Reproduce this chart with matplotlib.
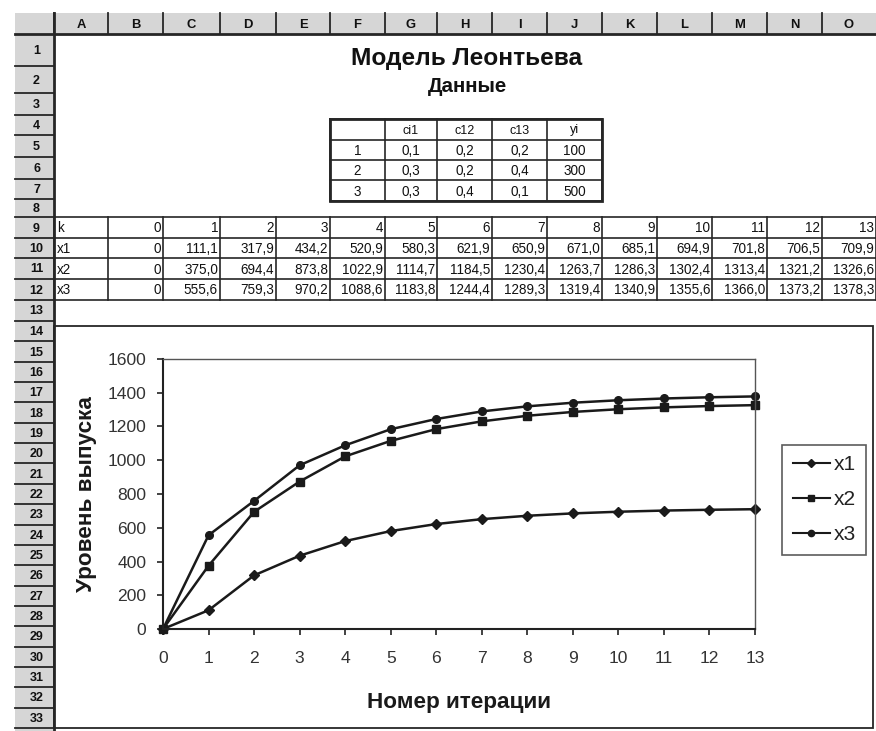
import matplotlib
matplotlib.use('Agg')
import matplotlib.pyplot as plt
from matplotlib.patches import Rectangle
from matplotlib.lines import Line2D

plt.rcParams['font.family'] = ['Liberation Sans', 'DejaVu Sans']

# ---------------- data ----------------
iterations = list(range(14))
x1 = [0, 111.1, 317.9, 434.2, 520.9, 580.3, 621.9, 650.9, 671.0, 685.1, 694.9, 701.8, 706.5, 709.9]
x2 = [0, 375.0, 694.4, 873.8, 1022.9, 1114.7, 1184.5, 1230.4, 1263.7, 1286.3, 1302.4, 1313.4, 1321.2, 1326.6]
x3 = [0, 555.6, 759.3, 970.2, 1088.6, 1183.8, 1244.4, 1289.3, 1319.4, 1340.9, 1355.6, 1366.0, 1373.2, 1378.3]
series_names = ['x1', 'x2', 'x3']

coef_header = ['', 'ci1', 'c12', 'c13', 'yi']
coef_index = [1, 2, 3]
coef_c1 = [0.1, 0.3, 0.3]
coef_c2 = [0.2, 0.2, 0.4]
coef_c3 = [0.2, 0.4, 0.1]
coef_y = [100, 300, 500]

col_letters = list('ABCDEFGHIJKLMNO')
title = 'Модель Леонтьева'
subtitle = 'Данные'
x_label = 'Номер итерации'
y_label = 'Уровень выпуска'
y_ticks = [0, 200, 400, 600, 800, 1000, 1200, 1400, 1600]

# ---------------- layout (pixels) ----------------
W, H = 876, 731
cols = [54, 108, 163, 220, 276, 330, 385, 437, 492, 547, 602, 657, 712, 767, 822, 876]
rb = [34, 66, 93, 115, 135, 157, 179, 199, 217, 238, 258, 279, 300, 321] + [321 + 20.35 * i for i in range(1, 21)]
HEAD_TOP = 13
LEFT0 = 15
GRAY = '#d6d6d6'
LINE = '#262626'


def px(v):
    return v * 0.72


def fmt(v, dec=1):
    if v == 0:
        return '0'
    return f'{v:.{dec}f}'.replace('.', ',')


fig = plt.figure(figsize=(W / 100, H / 100), dpi=100)
sheet = fig.add_axes([0, 0, 1, 1])
sheet.set_xlim(0, W)
sheet.set_ylim(H, 0)
sheet.axis('off')

# headers
sheet.add_patch(Rectangle((LEFT0, HEAD_TOP), W - LEFT0, rb[0] - HEAD_TOP, facecolor=GRAY, edgecolor='none'))
sheet.add_patch(Rectangle((LEFT0, rb[0]), cols[0] - LEFT0, H - rb[0], facecolor=GRAY, edgecolor='none'))
for i, letter in enumerate(col_letters):
    sheet.text((cols[i] + cols[i + 1]) / 2, (HEAD_TOP + rb[0]) / 2 + 1, letter, ha='center', va='center',
               fontsize=px(13), fontweight='bold', color='#111')
for c in cols[:-1]:
    sheet.plot([c, c], [HEAD_TOP, rb[0]], color=LINE, lw=1.3)
for r in range(1, len(rb)):
    sheet.text((LEFT0 + cols[0]) / 2 + 2, (rb[r - 1] + rb[r]) / 2 + 1, str(r), ha='center', va='center',
               fontsize=px(12.5), fontweight='bold', color='#111')
    sheet.plot([LEFT0, cols[0]], [rb[r], rb[r]], color=LINE, lw=1.3)
sheet.plot([LEFT0, W], [rb[0], rb[0]], color=LINE, lw=2)
sheet.plot([cols[0], cols[0]], [HEAD_TOP, H], color=LINE, lw=2)

# titles
sheet.text(467, 58, title, ha='center', va='center', fontsize=px(24.5), fontweight='bold', color='#111')
sheet.text(467, 87, subtitle, ha='center', va='center', fontsize=px(20.5), fontweight='bold', color='#111')

# coefficient table
ct_cols = cols[5:11]
ct_rows = [119, 140, 160, 180, 201]
for r in ct_rows:
    sheet.plot([ct_cols[0], ct_cols[-1]], [r, r], color=LINE, lw=1.2)
for c in ct_cols:
    sheet.plot([c, c], [ct_rows[0], ct_rows[-1]], color=LINE, lw=1.2)
sheet.add_patch(Rectangle((ct_cols[0], ct_rows[0]), ct_cols[-1] - ct_cols[0], ct_rows[-1] - ct_rows[0],
                          fill=False, edgecolor=LINE, lw=2))
tbl_font = ['Liberation Sans Narrow', 'Liberation Sans', 'DejaVu Sans']
for j, h in enumerate(coef_header):
    sheet.text((ct_cols[j] + ct_cols[j + 1]) / 2, (ct_rows[0] + ct_rows[1]) / 2 + 1, h, ha='center', va='center',
               fontsize=px(12.5), family=tbl_font, color='#111')
for i in range(3):
    vals = [str(coef_index[i]), fmt(coef_c1[i]), fmt(coef_c2[i]), fmt(coef_c3[i]), str(coef_y[i])]
    for j, v in enumerate(vals):
        sheet.text((ct_cols[j] + ct_cols[j + 1]) / 2, (ct_rows[i + 1] + ct_rows[i + 2]) / 2 + 1, v,
                   ha='center', va='center', fontsize=px(13.5), family=tbl_font, color='#111')

# iteration table (rows 9-12)
t_top, t_bot = rb[8], rb[12]
for r in rb[8:13]:
    sheet.plot([cols[0], cols[-1]], [r, r], color=LINE, lw=1.2)
for c in cols:
    sheet.plot([c, c], [t_top, t_bot], color=LINE, lw=1.2)
row_labels = ['k'] + series_names
row_values = [[str(k) for k in iterations]] + [[fmt(v) for v in s] for s in (x1, x2, x3)]
for ri in range(4):
    yc = (rb[8 + ri] + rb[9 + ri]) / 2 + 1
    sheet.text(cols[0] + 3, yc, row_labels[ri], ha='left', va='center', fontsize=px(13.5), family=tbl_font,
               color='#111')
    for j, v in enumerate(row_values[ri]):
        sheet.text(cols[j + 2] - 2, yc, v, ha='right', va='center', fontsize=px(13.5), family=tbl_font,
                   color='#111')

# chart frame
sheet.add_patch(Rectangle((cols[0], 326), 873 - cols[0], 728 - 326, facecolor='white', edgecolor=LINE, lw=1.3))

# ---------------- chart ----------------
pl, pr, pt, pb = 163, 755, 359, 629
ax = fig.add_axes([pl / W, 1 - pb / H, (pr - pl) / W, (pb - pt) / H])
ax.set_facecolor('none')
markers = ['D', 's', 'o']
for s, name, m in zip((x1, x2, x3), series_names, markers):
    ax.plot(iterations, s, color='#1a1a1a', lw=1.8, marker=m, ms=5.5, label=name, clip_on=False)
ax.set_xlim(0, 13)
ax.set_ylim(0, 1600)
ax.set_xticks(iterations)
ax.set_yticks(y_ticks)
ax.tick_params(axis='both', direction='out', length=4, width=1.2, color='#222', labelsize=px(17.5),
               labelcolor='#333')
ax.tick_params(axis='x', pad=12)
ax.tick_params(axis='y', pad=8)
for side in ('left', 'bottom'):
    ax.spines[side].set_linewidth(1.5)
    ax.spines[side].set_color('#222')
for side in ('top', 'right'):
    ax.spines[side].set_linewidth(1.0)
    ax.spines[side].set_color('#555')
ax.set_xlabel(x_label, fontsize=px(22.5), fontweight='bold', color='#1a1a1a')
ax.set_ylabel(y_label, fontsize=px(22.5), fontweight='bold', color='#1a1a1a')
ax.xaxis.set_label_coords(0.5, -0.233)
ax.yaxis.set_label_coords(-0.112, 0.5)

handles = [Line2D([], [], color='#1a1a1a', lw=1.5, marker=m, ms=4.5) for m in markers]
leg = fig.legend(handles, series_names, loc='upper left', bbox_to_anchor=(782 / W, 1 - 445 / H),
                 frameon=True, fancybox=False, edgecolor='#333', fontsize=px(21), handlelength=1.8,
                 handletextpad=0.15, borderpad=0.5, labelspacing=0.75, borderaxespad=0)
leg.get_frame().set_linewidth(1.2)
for t in leg.get_texts():
    t.set_color('#222')

fig.savefig('out.png', dpi=100, facecolor='white')
